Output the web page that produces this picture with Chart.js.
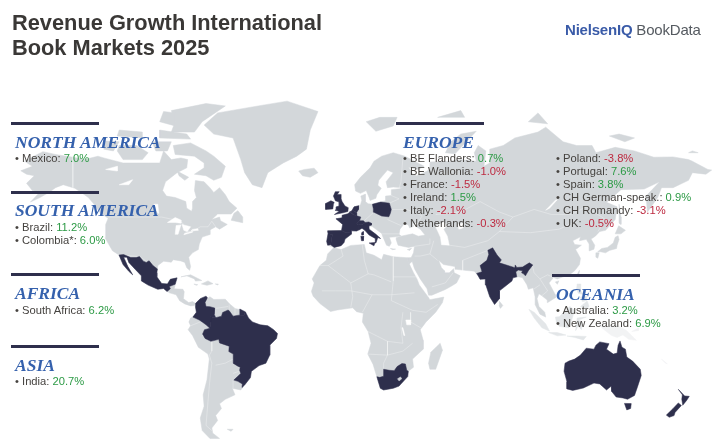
<!DOCTYPE html>
<html><head><meta charset="utf-8">
<style>
html,body{margin:0;padding:0;background:#fff;width:713px;height:444px;overflow:hidden}
#wrap{position:absolute;left:0;top:0;width:713px;height:444px}
canvas{position:absolute;left:0;top:0}
.t{position:absolute;white-space:pre;font-family:"Liberation Sans",Arial,sans-serif}
#title{left:12px;top:10px;font-size:21.8px;font-weight:700;line-height:25px;color:#3a3836}
#logo{left:565px;top:21px;font-size:15px;line-height:18px;color:#555a60;letter-spacing:-.2px}
#logo b{color:#3a5ba8}
.bar{position:absolute;height:3.4px;background:#2e2f4c}
.h{font-family:"Liberation Serif",serif;font-weight:700;font-style:italic;color:#3561ad;font-size:17.5px;line-height:20px}
.l{font-size:11.2px;line-height:13px;color:#45423f}
.up{color:#2c9a45}.down{color:#bd2a40}
</style></head><body>
<div id="wrap"><canvas id="c" width="713" height="444"></canvas><div id="overlay"></div></div>
<script src="https://cdn.jsdelivr.net/npm/chart.js@4/dist/chart.umd.js"></script>
<script>
// ---- text content ----
const titleLines=["Revenue Growth International","Book Markets 2025"];
const northAmericaNames=["Mexico"], northAmericaGrowth=[7.0];
const southAmericaNames=["Brazil","Colombia*"], southAmericaGrowth=[11.2,6.0];
const africaNames=["South Africa"], africaGrowth=[6.2];
const asiaNames=["India"], asiaGrowth=[20.7];
const europeNames1=["BE Flanders","BE Wallonia","France","Ireland","Italy","Netherlands"];
const europeGrowth1=[0.7,-1.0,-1.5,1.5,-2.1,-0.3];
const europeNames2=["Poland","Portugal","Spain","CH German-speak.","CH Romandy","UK"];
const europeGrowth2=[-3.8,7.6,3.8,0.9,-3.1,-0.5];
const oceaniaNames=["Australia","New Zealand"], oceaniaGrowth=[3.2,6.9];

// ---- geography, [longitude, latitude] ----
const landNorthAmerica=[[-168,65.6],[-164,66.5],[-162,67],[-166,68.5],[-163,69.5],[-156.5,71.3],[-150,70.5],[-141,69.7],[-135,69],[-128,70],[-125,69.5],[-115,68],[-108,68],[-102,68],[-96,68],[-94,71.5],[-90,69],[-85,69.5],[-81.5,69],[-82,66.5],[-87,65],[-93,62],[-94.5,59],[-92.5,57],[-88,56.5],[-82.5,55],[-82,52.5],[-79.5,51.3],[-79,52.5],[-79,55],[-77,56.5],[-78,59],[-77.5,62.4],[-73,62],[-70,60],[-68,58.3],[-65,60],[-62,57.5],[-60,55],[-56,52.5],[-59,50.2],[-66,50.2],[-69,48],[-65,49],[-64.5,47.5],[-61,46],[-65,44],[-67,45],[-70,43.7],[-70,41.7],[-74,40.6],[-75.5,37.5],[-76,35],[-79,33.5],[-81,31.5],[-80,27],[-80.5,25.2],[-82,26.5],[-83,29],[-85,29.7],[-89,30.3],[-90,29.1],[-94,29.6],[-97,27.5],[-97.5,24],[-97.5,22],[-95,18.7],[-92,18.5],[-90.5,20.8],[-87,21.5],[-88,18],[-88.5,16],[-84,15.8],[-83.3,14.5],[-83.7,11],[-81,9],[-79,9.5],[-77.5,8.6],[-78,7.5],[-80,7.3],[-83,8.3],[-85.7,10],[-87.5,13],[-91,14],[-94,16.2],[-97,15.8],[-102,17.9],[-105.5,20],[-105.5,22.5],[-108.5,25.5],[-112,29],[-113,31.5],[-114.7,31.5],[-112.5,27],[-110,23],[-112,24.7],[-115,28],[-117.1,32.5],[-120.5,34.5],[-122.5,37.5],[-124.3,40.3],[-124,46],[-122.7,48.5],[-127,50.8],[-130,54],[-133,56.5],[-137,58.5],[-140,59.8],[-146,61],[-150,60],[-153,58.5],[-158,56.5],[-163,54.8],[-158,58.5],[-162,59],[-165,61.5],[-161,64],[-165,64.5]];
const landSouthAmerica=[[-77.5,8.6],[-75,11],[-72,12.3],[-71.5,10.8],[-70,12],[-68,10.6],[-62,10.7],[-60,8.5],[-57,6],[-52,4.7],[-50,1],[-48,-1],[-44,-2.5],[-40,-3],[-37,-5],[-35,-7],[-35.5,-9.5],[-39,-13],[-39,-18],[-41,-22],[-44.5,-23.2],[-48.5,-26],[-49,-29],[-52,-32.5],[-54,-34.8],[-58.4,-34],[-57,-37],[-62,-39],[-65,-41],[-64,-43],[-67,-46],[-66,-48],[-69,-51],[-68.5,-53],[-65,-55],[-70,-55],[-74,-52],[-75,-47],[-73,-42],[-73.5,-37],[-71.5,-30],[-70.3,-20],[-71,-17.5],[-76,-14],[-79,-8],[-81.3,-5],[-80,-3],[-80.9,-1],[-80,1],[-78.8,1.5],[-77,4],[-77.5,7]];
const landEurasia=[[-5.6,36],[-9,37],[-9.5,38.7],[-8.8,42],[-9,43.3],[-1.8,43.4],[-1.2,46],[-4.7,48.3],[-1.5,48.7],[-1.5,49.7],[1.5,50.3],[3.5,51.4],[4.7,53],[8,53.7],[8.7,55.5],[8.2,57],[10.5,57.7],[10.5,55],[12,54.2],[14.2,54],[18.5,54.8],[21,55.3],[21,57],[24,57.2],[24,59.3],[28,59.6],[30,60],[25,60.2],[22,60],[21.3,62],[25,65],[22,65.8],[17.5,62.5],[17,60.8],[18.8,59.8],[16.5,57.5],[16,56.2],[13,55.4],[12.5,56.5],[11,59],[8,58],[5.5,58.8],[5,61],[8,63.5],[13,66.5],[15,68.5],[19,70],[25,71],[31,70],[41,67],[38,66],[33,66.7],[35,64.5],[37,64],[40,64.7],[44,66],[44,68.3],[54,68.5],[60,69],[68,68.5],[67,71],[69,73],[73,71.5],[72,67],[75,68],[75,72],[82,73],[88,75],[100,76.5],[104,77.7],[113,74],[120,73],[128,73],[130,71],[140,72.5],[150,71.5],[160,69.7],[170,69.8],[178,69],[180,68.5],[188,66],[190,65.8],[187,64.5],[180,65],[178,62.5],[170,60],[164,60],[162,56.5],[156.7,51],[156,57],[163,62],[155,59.5],[143,59.3],[135.5,54.7],[141,53],[140,48],[135,43.5],[132,43],[129.7,41],[127.5,39.7],[129.4,37],[129,35.2],[126.5,34.4],[126.5,37.5],[125,39.6],[121.5,39],[122,40.7],[118,39],[119,37.3],[122.5,37],[119.5,35],[122,31],[121.5,28],[119,25],[116,22.8],[113,22],[110,21],[108,21.7],[105.7,19],[109,13],[109,11.5],[105,9],[104.8,10.3],[102,12.5],[100.5,13.5],[99.5,11],[100.5,7],[103.5,4],[104,1.5],[101,3],[98.5,8],[98.5,12],[97.5,16.5],[95,15.8],[94.3,18],[92,21.5],[90,22],[87,21.5],[86.5,20],[82,16.5],[80,15],[80,11],[77.5,8],[75,12],[73,18],[72.7,21],[70,20.8],[69,22.5],[67,24.8],[62,25.2],[57.5,25.7],[57,27],[51,28],[48.5,30],[50,26.5],[51.5,25],[51.6,24],[54,24],[56.3,26],[56.6,24],[59.7,22.5],[57.8,19],[55,17.3],[52,15.7],[45,12.8],[43.3,12.8],[42.5,16],[39,21],[36,26],[34.8,29.5],[33,28],[32.5,30],[32.5,31.2],[34.3,31.3],[35.5,33.5],[36,36.5],[33,36],[30.5,36.4],[27.5,37],[26.5,39.5],[26.5,40.3],[29,41],[35,42],[38,41],[41.5,41.5],[39,44],[37,45],[38.5,47],[35,46.3],[35.5,45.2],[33.5,44.5],[32.8,45.8],[30.7,46.3],[28.5,44],[28,41.8],[29,41.1],[26,40.7],[23,40.5],[24,38],[23,36.5],[21.5,37],[19.5,41],[19,42.2],[14,45.2],[12.4,45.3],[12.5,44],[16,41.8],[18.4,40],[17,40.4],[16,38],[15.7,40],[12.5,41.5],[10.3,43.5],[8.8,44.4],[6,43.2],[3.2,43.3],[3.2,41.8],[0,39.7],[-0.5,38.2],[-2,36.8]];
const landAfrica=[[-5.9,35.8],[-2,35],[3,36.9],[10,37.3],[11,33.5],[15,32.4],[19,30.3],[20,32.8],[25,31.7],[32.5,31.2],[32.5,29.9],[35.5,24],[37.3,21],[38.5,18],[43,12],[44,10.5],[51.2,11.8],[50.5,9],[47,4],[42,-1],[39,-5],[40.5,-10.5],[40.5,-15],[35,-20],[35.5,-24],[32.8,-26],[32.5,-28.5],[28,-33],[25,-34],[20,-34.8],[18.3,-34],[16.5,-28.6],[14.5,-22.5],[11.8,-17.5],[13.5,-12],[12,-6],[9,-1],[9.5,3.5],[6,4.3],[4,6.3],[-4,5.2],[-7.5,4.4],[-13,8.5],[-16.5,12.3],[-17.4,14.7],[-16,19],[-17,21],[-13,27.5],[-9.7,30],[-9,33]];
const landIslands=[
[[-80,73.7],[-72,71.5],[-68,70],[-62,67],[-64,63.5],[-68,62.5],[-72,64],[-78,64.5],[-73,66.5],[-73,68],[-78,70],[-88,70.5],[-89,73]],
[[-117,73],[-108,73],[-102,71],[-105,69],[-115,69],[-118,71.5]],
[[-125,72],[-120,71.5],[-117,74],[-124,74.2]],
[[-90,76.5],[-78,76.5],[-74,79],[-62,82.5],[-72,83],[-90,81.5],[-88,79]],
[[-96,75],[-80,74.7],[-82,76],[-96,77]],
[[-118,75.5],[-105,75],[-105,76.5],[-117,77]],
[[-96,79],[-88,78],[-88,81],[-94,81.3]],
[[-87,65.5],[-81,63.5],[-83,62.5],[-86,64]],
[[-100,74],[-90,74],[-92,71.5],[-98,71.5]],
[[-59,47.7],[-53,46.7],[-53,49],[-55.5,51.5],[-57.5,50.5]],
[[-73,78.2],[-66,81],[-45,82.5],[-30,83.5],[-14,81.3],[-18,77],[-20,72],[-25,70],[-32,68],[-40,65],[-43,60],[-48,61],[-52,65],[-54,69],[-58,75],[-68,76]],
[[-24,65.5],[-22,64],[-18,63.5],[-14,65],[-16,66.4],[-21,66]],
[[-85,22],[-80,23],[-74.2,20.2],[-77.5,19.9],[-78,21],[-82,22.5]],
[[-74.4,18.5],[-71,20],[-68.4,18.6],[-71.5,17.8]],
[[-78.3,18.4],[-76.3,18.1],[-77,17.8]],
[[-67.2,18.5],[-65.6,18.4],[-66,17.9]],
[[-61,-51.5],[-58,-51.5],[-59,-52.3]],
[[49.3,-12],[50.5,-15.5],[47,-25],[44,-25],[43.3,-22],[44.5,-16.5]],
[[80,9.7],[81.8,7.5],[80.5,6],[79.8,7.5]],
[[130.9,34],[133,35.5],[136,36],[139,38],[140,40.5],[141.5,41.2],[142,39.5],[141,37],[140.7,35.5],[137,34.6],[135,33.5],[132.5,34]],
[[130,33.5],[131.7,33.5],[131,31],[130,31.5]],
[[140,42],[141.8,45.4],[145.3,43.5],[143,42]],
[[142,54],[143,49],[143,46],[142,46.5],[142,50]],
[[120.2,23],[121.5,25.2],[121,22]],
[[109,19.5],[110.8,20],[110,18.3]],
[[11,79],[16,76.7],[25,78],[27,80],[18,80]],
[[52,71],[57,70.7],[68,76.7],[60,76],[55,74]],
[[95,79],[105,78.5],[100,81]],
[[137,75.5],[145,74],[150,75],[142,76]],
[[178,71],[183,71],[180,71.5]],
[[48,80],[62,80],[60,81.5]],
[[32.3,35],[34.5,35.6],[33.5,34.6]],
[[23.5,35.5],[26.2,35.2],[24.7,34.95]]];
const landMaritimeAsia=[
[[120.3,18.5],[122.2,18.4],[122,15],[124,13],[120.8,13.8],[120,16]],
[[122,7],[125.5,9.8],[126.5,7],[125,5.8]],
[[122,11.8],[125,12.5],[125,10],[123,9.5]],
[[95.3,5.5],[98,4],[104,-2],[106,-5.8],[102,-4],[98,1]],
[[105.5,-6.5],[110,-6.5],[114.5,-7.8],[110,-8.2]],
[[109,1.5],[111,1.7],[116.5,7],[119,5],[117.8,1],[116,-4],[111,-3.3],[109.5,-1]],
[[119.5,-5.5],[120.3,1],[125,1.5],[121,0],[123,-1],[122.5,-5],[120.8,-3]],
[[115,-8.3],[120,-8.3],[125,-8.5],[123.5,-10.3],[119,-9]]];
const landMelanesia=[
[[131,-1],[135,-3.3],[141,-2.6],[146,-5.5],[151,-10.5],[147,-10],[144,-7.7],[141,-9],[138,-8],[133,-4]],
[[148.5,-6],[152,-4.2],[152,-5.5]],
[[164,-20],[167,-22.3],[166,-22]]];
const lakes=[
[[-124,66],[-118,67],[-118,65.5]],
[[-117,61],[-110,62.7],[-112,61]],
[[-99,54],[-97,54],[-96.5,50.5],[-97,50.5]],
[[-92,46.8],[-88,48.8],[-85,47.8],[-85,46.5],[-88,46.8]],
[[-88,41.8],[-86.5,41.8],[-85,45.8],[-87.5,45.5]],
[[-84.5,46],[-80,45],[-81.7,43],[-83.5,43.5]],
[[-83.5,41.6],[-79,42.7],[-79,43],[-83,42.3]],
[[-79.8,43.3],[-76,43.5],[-76.3,44.2],[-79,43.9]],
[[47,45],[51,47],[53,45.5],[51,44],[53,41],[54,37],[50,37.2],[49.5,40.5]],
[[58.5,46],[61,46.5],[61,44.5],[59,44]],
[[104,51.7],[106,52.5],[110,55.7],[109,55.5],[105,52.5]],
[[31.5,0],[34,0],[34,-2.5],[32,-2.5]],
[[29.5,-4],[30,-4],[31,-8],[30.5,-8]]];
const borders=[
[[-141,69.7],[-141,60]],[[-123,49],[-95,49],[-89,48],[-84,46.5],[-82.5,43],[-79,43],[-75,45],[-71,45],[-69,47.3],[-67,45]],
[[-117,32.5],[-106.5,31.8],[-97.2,25.9]],
[[-70.3,-18],[-69,-22],[-70,-30],[-71,-40],[-72,-50],[-69,-52]],[[-69,-11],[-69,-16],[-70.3,-18]],[[-58,-20],[-62,-22],[-67,-23]],[[-58,-27],[-55,-26]],[[-58,-34],[-58,-30]],[[-80,-3],[-75,-1]],[[-70,-4.3],[-74,-8],[-69,-11]],
[[-72,7],[-67,6],[-60.5,7]],[[-60,5],[-60,8]],[[-57,2],[-57,6]],
[[30,69.5],[29,62],[28,59.6]],[[24,57.2],[28,56],[23,54.4]],[[24,52],[32,52],[40,49.5],[38,47]],[[14.5,54],[15,51],[10,47.5]],[[22,48],[29,45.5]],[[19,42],[28,42]],
[[47,50],[60,51],[70,55],[80,51],[87,49]],[[87,49],[98,52],[107,50],[117,50],[125,53],[135,48],[131,43]],[[87,49],[80,43],[74,39],[62,36],[54,37]],[[80,43],[96,42.5],[111,44],[119,47]],[[75,35],[61,30],[61,25]],[[46,39],[44,33],[39,32],[36,32]],[[44,33],[48,30]],[[36,36.5],[44,37.5],[44,40]],[[45,17],[52,19],[56,24]],[[97,28],[98,24],[101,21],[105,23],[108,21.7]],[[101,21],[105,15],[102,12.5]],[[98,16],[101,18]],
[[-8.7,27.5],[-1,32],[-2,35]],[[-13,27.5],[-8.7,27.5],[3,19],[12,23.5],[10,30],[9,37]],[[25,31.7],[25,20],[24,10]],[[25,22],[37,22]],[[12,23.5],[15,23],[24,19.5]],[[3,19],[4,12],[3,6.5]],[[-12,15],[-5,15],[3,15],[14,13],[24,13],[36,14]],[[14,13],[9,4]],[[24,10],[35,5],[42,4],[48,8]],[[30,4],[29,-4],[30,-12],[22,-11],[12,-6]],[[34,4],[34,-1],[40,-4.5]],[[22,-11],[22,-18],[12,-17.5]],[[22,-18],[30,-16],[35,-12]],[[20,-28],[20,-22],[22,-18]]];
const hlMexico=[[-117.1,32.5],[-114.7,32.7],[-111,31.3],[-108.2,31.3],[-106.5,31.8],[-104.5,29.6],[-103,29],[-101.5,29.8],[-99.5,27.5],[-97.2,25.9],[-97.5,24],[-97.5,22],[-95,18.7],[-92,18.5],[-90.5,20.8],[-87,21.5],[-88,18.3],[-89.1,17.9],[-91,17.2],[-90.5,16],[-92.2,14.6],[-94,16.2],[-97,15.8],[-102,17.9],[-105.5,20],[-105.5,22.5],[-108.5,25.5],[-112,29],[-113,31.5],[-114.7,31.5],[-112.5,27],[-110,23],[-112,24.7],[-115,28]];
const hlBrazil=[[-51.6,4.2],[-50,1],[-48,-1],[-44,-2.5],[-40,-3],[-37,-5],[-35,-7],[-35.5,-9.5],[-39,-13],[-39,-18],[-41,-22],[-44.5,-23.2],[-48.5,-26],[-49,-29],[-52,-32.5],[-53.4,-33.7],[-53.2,-32],[-55.5,-30.8],[-57.6,-30.2],[-54,-27],[-54.6,-25.5],[-54.3,-24],[-55.5,-23.5],[-58,-22],[-57.8,-19],[-58,-17.5],[-60.2,-16.2],[-60,-13.5],[-65,-11.8],[-65.4,-10],[-69.5,-11],[-72.5,-9.5],[-73.8,-7.3],[-72.8,-5],[-70,-4.3],[-69.5,-1],[-69.9,1.7],[-67,1.2],[-64,2],[-63.4,3.9],[-60.5,5.2],[-59.8,4.5],[-58,2],[-55,2.5],[-52.5,2.2]];
const hlColombia=[[-77.4,8.6],[-75,11],[-72,12.3],[-71.3,11.5],[-72.5,9.1],[-72,7],[-70,6.9],[-67.5,6.2],[-67.8,3],[-67,1.2],[-69.9,1.7],[-69.5,-1],[-70,-4.3],[-72,-2.5],[-74,-1],[-75.5,0],[-78.8,1.5],[-77,4],[-77.5,7]];
const hlFrenchGuiana=[[-54.5,5.7],[-51.7,4.2],[-52.5,2.2],[-54.5,2.3]];
const hlSouthAfrica=[[16.5,-28.6],[18,-28.9],[20,-28.4],[20,-25],[23,-25.5],[25.5,-25.7],[27,-23.7],[29.5,-22.2],[31.3,-22.4],[32,-25.5],[32.8,-26],[32.5,-28.5],[28,-33],[25,-34],[20,-34.8],[18.3,-34]];
const lesotho=[[27.2,-29.6],[28.8,-28.7],[29.4,-29.6],[28,-30.6]];
const hlIndia=[[68.2,23.7],[71,24.5],[70,27.5],[73.5,30],[74.5,32.8],[74,34.7],[76.5,35.8],[78.8,32.5],[81,30.2],[80,28.8],[88,26.5],[88.2,27.8],[89,26.6],[92,26.8],[95.5,28.8],[97.3,27.8],[95,25],[93.5,22.5],[92.5,23.5],[91.5,24],[92,25],[89.8,25.3],[88.5,24.5],[89,22],[87,21.5],[86.5,20],[82,16.5],[80,15],[80,11],[77.5,8],[75,12],[73,18],[72.7,21],[70,20.8],[69,22.5]];
const hlGreatBritain=[[-5.5,50],[-1,50.7],[1.5,51.2],[1.7,52.7],[0,53.3],[-1.5,55],[-2,56],[-2,57.6],[-4,57.6],[-3,58.6],[-5,58.6],[-6,57],[-5,55.3],[-3,54.8],[-3,53.3],[-4.5,53],[-4.5,52],[-5.2,51.7],[-3,51.3]];
const hlIreland=[[-10,52],[-6.3,52.2],[-6,54],[-5.6,54.7],[-7.3,55.3],[-10,54.3]];
const hlFrance=[[-1.8,43.4],[-1.2,46],[-4.7,48.3],[-1.5,48.7],[-1.5,49.7],[1.5,50.3],[2.5,51],[4.2,50],[6,49.5],[8.2,49],[7.5,47.5],[6,46.3],[7,45.9],[7,44],[7.5,43.8],[6,43.2],[3.2,43.3],[3.2,42.4],[0,42.7]];
const hlSpain=[[-9,43.3],[-1.8,43.4],[0,42.7],[3.2,42.4],[3.2,41.8],[0,39.7],[-0.5,38.2],[-2,36.8],[-5.6,36],[-7.4,37.2],[-7,39.5],[-6.5,41.7],[-8.8,42]];
const hlPortugal=[[-8.8,42],[-6.5,41.7],[-7,39.5],[-7.4,37.2],[-9,37],[-9.5,38.7]];
const hlBelgium=[[2.5,51.1],[3.5,51.4],[4.5,51.5],[6,50.7],[6,49.5],[4.2,50]];
const hlNetherlands=[[3.5,51.4],[4.7,53],[7,53.4],[7,52],[6,50.8],[4.5,51.5]];
const hlSwitzerland=[[6,46.3],[7.5,47.5],[9.6,47.5],[10.4,46.8],[9,46],[7,45.9]];
const hlItaly=[[7,45.9],[9,46],[10.4,46.8],[12.3,47],[13.7,46.5],[13.7,45.7],[12.4,45.3],[12.5,44],[16,41.8],[18.4,40],[17,40.4],[16,38],[15.7,40],[12.5,41.5],[10.3,43.5],[8.8,44.4],[7.5,43.8],[7,44]];
const hlSicily=[[12.5,38],[15.6,38.2],[15,36.7]];
const hlSardinia=[[8.2,41],[9.7,41],[9.5,39],[8.5,39]];
const hlCorsica=[[8.6,42.5],[9.5,43],[9.5,41.5],[8.8,41.5]];
const hlPoland=[[14.2,54],[18.5,54.8],[23,54.4],[24,52],[23.5,50.5],[22.7,49.1],[19,49.4],[15,50.9],[14.7,52.2]];
const hlAustralia=[[114,-22],[113.5,-26],[115,-31],[115,-34.3],[118,-35],[123.5,-33.9],[129,-31.6],[132,-32],[135.5,-34.8],[138,-33],[138.2,-35.5],[140.5,-38],[144,-38.4],[146.4,-39],[150,-37.3],[151.5,-33.5],[153.5,-28],[153,-25],[149,-21],[146,-19],[145.3,-15],[143.5,-14],[142.5,-10.8],[141.5,-13],[141,-17],[139,-17.5],[135.5,-15],[136.8,-12.2],[132,-11.3],[130,-13],[129,-15],[125,-14.5],[122,-18],[119,-20],[116,-21]];
const hlTasmania=[[144.8,-40.8],[148.3,-40.9],[148,-43],[146,-43.6]];
const hlNZNorth=[[172.7,-34.5],[176,-37.5],[178.4,-37.7],[177,-39.5],[175,-41.6],[174.5,-39],[174.8,-37]];
const hlNZSouth=[[172.7,-40.6],[174.3,-41.7],[171,-44.7],[170.5,-46],[168,-46.7],[166.5,-45.8],[170,-43]];

// ---- styling and layout ----
const LAND="#d3d7da",PALE="#e3e6e8",FAINT="#f2f3f4",DARK="#2e2f4c",WHITE="#ffffff";
const allLand=[landNorthAmerica,landSouthAmerica,landEurasia,landAfrica,...landIslands];
const allHigh=[hlMexico,hlBrazil,hlColombia,hlFrenchGuiana,hlSouthAfrica,hlIndia,hlGreatBritain,hlIreland,hlFrance,hlSpain,hlPortugal,hlBelgium,hlNetherlands,hlSwitzerland,hlItaly,hlSicily,hlSardinia,hlCorsica,hlPoland,hlAustralia,hlTasmania,hlNZNorth,hlNZSouth];
const miller=lat=>{const r=lat*Math.PI/180;return 1.25*Math.log(Math.tan(Math.PI/4+0.4*r))*180/Math.PI;};
const toPts=(p,close)=>{const o=p.map(([lon,lat])=>({x:lon,y:miller(lat)}));if(close)o.push(o[0]);return o;};
const poly=(p,c)=>({data:toPts(p,true),showLine:true,fill:"shape",backgroundColor:c,borderColor:c,borderWidth:.5,pointRadius:0,tension:0});
const line=(p)=>({data:toPts(p,false),showLine:true,fill:false,borderColor:"rgba(255,255,255,.6)",borderWidth:.5,pointRadius:0,tension:0});
const layered=[...allLand.map(p=>poly(p,LAND)),...landMaritimeAsia.map(p=>poly(p,PALE)),...landMelanesia.map(p=>poly(p,FAINT)),...lakes.map(p=>poly(p,WHITE)),...borders.map(line),...allHigh.map(p=>poly(p,DARK)),poly(lesotho,LAND)];
const PX=1.93, X0=345, Y0=320;
new Chart(document.getElementById("c"),{type:"scatter",data:{datasets:layered.reverse()},options:{
 responsive:false,animation:false,layout:{padding:0},events:[],
 plugins:{legend:{display:false},tooltip:{enabled:false},title:{display:false}},
 scales:{x:{type:"linear",display:false,min:-X0/PX,max:(713-X0)/PX},y:{type:"linear",display:false,min:(Y0-444)/PX,max:Y0/PX}}}});

// ---- text overlay ----
const ov=document.getElementById("overlay");
function add(cls,x,y,html,id){const d=document.createElement("div");d.className=cls;if(id)d.id=id;d.style.left=x+"px";d.style.top=y+"px";d.innerHTML=html;ov.appendChild(d);return d;}
add("t",12,10,titleLines.join("\n"),"title");
add("t",565,21,"<b>NielsenIQ</b> BookData","logo");
function bar(x,y,w){const d=document.createElement("div");d.className="bar";d.style.cssText=`left:${x}px;top:${y}px;width:${w}px`;ov.appendChild(d);}
function items(names,vals,x,y){names.forEach((n,i)=>{const v=vals[i];add("t l",x,y+i*13.05,`• ${n}: <span class="${v<0?"down":"up"}">${v.toFixed(1)}%</span>`);});}
function region(name,barX,barY,hx,hy){bar(barX,barY,88);add("t h",hx,hy,name);}
region("NORTH AMERICA",11,121.5,15,132);items(northAmericaNames,northAmericaGrowth,15,151.5);
region("SOUTH AMERICA",11,190.5,15,200);items(southAmericaNames,southAmericaGrowth,15,220.5);
region("AFRICA",11,272.5,15,283);items(africaNames,africaGrowth,15,303.5);
region("ASIA",11,344.5,15,355);items(asiaNames,asiaGrowth,15,374.5);
region("EUROPE",396,121.5,403,132);items(europeNames1,europeGrowth1,403,151.5);items(europeNames2,europeGrowth2,556,151.5);
region("OCEANIA",552,273.5,556,284);items(oceaniaNames,oceaniaGrowth,556,303.5);
</script></body></html>
